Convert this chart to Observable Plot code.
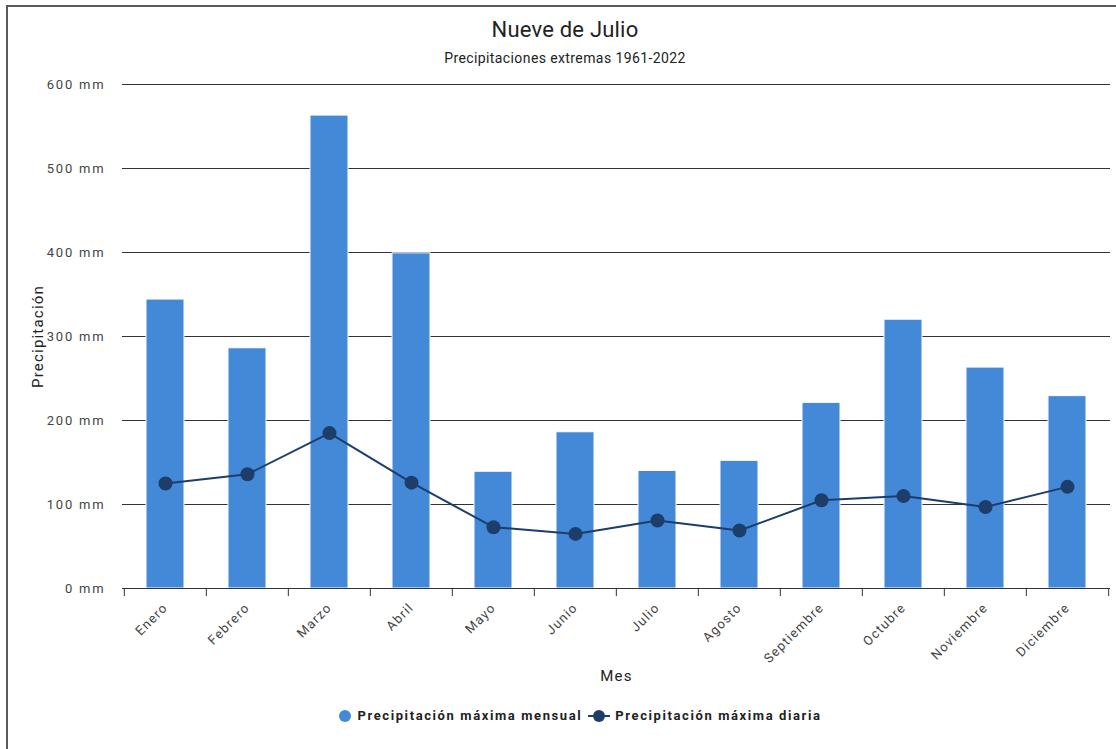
<!DOCTYPE html>
<html>
<head>
<meta charset="utf-8">
<script src="https://cdn.jsdelivr.net/npm/d3@7"></script>
<script src="https://cdn.jsdelivr.net/npm/@observablehq/plot@0.6"></script>
<style>
  html, body { margin: 0; padding: 0; background: #fff; }
  body { width: 1116px; height: 749px; position: relative; overflow: hidden; font-family: Roboto, "Noto Sans", sans-serif; }
  #frame { position: absolute; left: 6px; top: 5px; width: 1200px; height: 800px; border-left: 2px solid #5a5a5a; border-top: 2px solid #5a5a5a; }
  #title { position: absolute; left: 0; width: 1130px; top: 17px; text-align: center; font-size: 22px; color: #222; letter-spacing: 0.2px; }
  #subtitle { position: absolute; left: 0; width: 1130px; top: 50px; text-align: center; font-size: 14px; color: #222; letter-spacing: 0.4px; }
  #chart { position: absolute; left: 0; top: 70px; }
  #chart svg text { letter-spacing: 1.2px; }
  #legend { position: absolute; left: 0; width: 1160px; top: 708px; display: flex; justify-content: center; align-items: center; font-size: 13px; font-weight: bold; color: #222; letter-spacing: 1.6px; }
  #legend .item { display: flex; align-items: center; margin: 0 3px; }
  #legend svg { margin-right: 5px; }
</style>
</head>
<body>
<div id="frame"></div>
<div id="title">Nueve de Julio</div>
<div id="subtitle">Precipitaciones extremas 1961-2022</div>
<div id="chart"></div>
<div id="legend">
  <div class="item"><svg width="14" height="14"><circle cx="7" cy="7" r="6" fill="#4389d8"></circle></svg>Precipitación máxima mensual</div>
  <div class="item"><svg width="22" height="14"><line x1="0" y1="7" x2="22" y2="7" stroke="#1d3d6b" stroke-width="2"></line><circle cx="11" cy="7" r="6" fill="#1d3d6b"></circle></svg>Precipitación máxima diaria</div>
</div>
<script>
const months = ["Enero","Febrero","Marzo","Abril","Mayo","Junio","Julio","Agosto","Septiembre","Octubre","Noviembre","Diciembre"];
const maxMensual = [344, 286, 563, 399, 139, 186, 140, 152, 221, 320, 263, 229];
const maxDiaria = [125, 136, 185, 126, 73, 65, 81, 69, 105, 110, 97, 121];
const yTicks = [0, 100, 200, 300, 400, 500, 600];

const data = months.map((m, i) => ({month: m, mensual: maxMensual[i], diaria: maxDiaria[i]}));

const W = 1116, H = 620, mL = 122, mR = 6, mT = 14, mB = 102;
const step = (W - mL - mR) / months.length;

const chart = Plot.plot({
  width: W, height: H,
  marginLeft: mL, marginRight: mR, marginTop: mT, marginBottom: mB,
  style: {fontFamily: "Roboto, 'Noto Sans', sans-serif", background: "transparent"},
  x: {domain: months, padding: 0, axis: null},
  y: {domain: [0, 600], axis: null},
  marks: [
    Plot.ruleY(yTicks.filter(d => d > 0), {y: d => d, stroke: "#333", strokeWidth: 1}),
    Plot.barY(data, {x: "month", y: "mensual", fill: "#4389d8", insetLeft: 22, insetRight: 22, stroke: "#fff", strokeWidth: 1}),
    Plot.ruleY([0], {y: d => d, stroke: "#333", strokeWidth: 1}),
    Plot.ruleX(months, {x: d => d, y1: 0, y2: 0, insetBottom: -8, dx: -step / 2, stroke: "#333"}),
    Plot.ruleX([months[months.length - 1]], {x: d => d, y1: 0, y2: 0, insetBottom: -8, dx: step / 2, stroke: "#333"}),
    Plot.line(data, {x: "month", y: "diaria", stroke: "#1d3d6b", strokeWidth: 2}),
    Plot.dot(data, {x: "month", y: "diaria", r: 7, fill: "#1d3d6b"}),
    Plot.text(yTicks, {y: d => d, text: d => d + " mm", frameAnchor: "left", textAnchor: "end", dx: -17, fontSize: 13, fill: "#444"}),
    Plot.text(months, {x: d => d, y: 0, text: d => d, rotate: -45, textAnchor: "end", dx: 0, dy: 17, fontSize: 13, fill: "#444"}),
    Plot.text(["Precipitación"], {frameAnchor: "left", text: d => d, rotate: -90, textAnchor: "middle", lineAnchor: "middle", dx: -84, fontSize: 15, fill: "#222"}),
    Plot.text(["Mes"], {frameAnchor: "bottom", text: d => d, lineAnchor: "middle", dy: 88, fontSize: 15, fill: "#222"})
  ]
});
chart.querySelectorAll("text").forEach(t => {
  if (/ mm$/.test(t.textContent)) t.style.letterSpacing = "1.8px";
});
document.getElementById("chart").appendChild(chart);
</script>
</body>
</html>
